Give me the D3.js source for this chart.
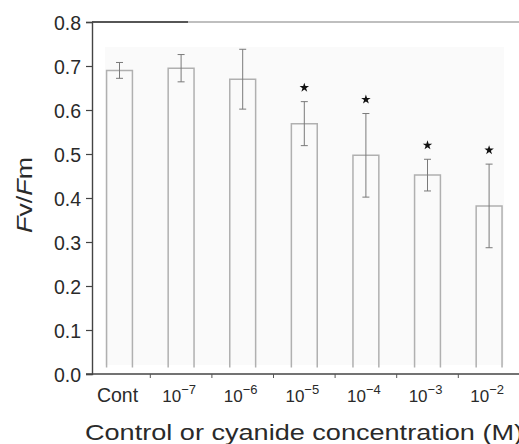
<!DOCTYPE html>
<html><head><meta charset="utf-8">
<script src="https://cdn.jsdelivr.net/npm/d3@7"></script>
<style>body{margin:0;background:#fff;} svg{display:block;}</style>
</head><body>
<script>
const categories = ["Cont", "10^-7", "10^-6", "10^-5", "10^-4", "10^-3", "10^-2"];
const values = [0.690, 0.695, 0.670, 0.569, 0.497, 0.452, 0.382];
const errors = [0.018, 0.031, 0.068, 0.050, 0.095, 0.036, 0.095];
const significant = [false, false, false, true, true, true, true];
const yTicks = [0.0, 0.1, 0.2, 0.3, 0.4, 0.5, 0.6, 0.7, 0.8];

const W = 519, H = 444;
const svg = d3.select("body").append("svg").attr("width", W).attr("height", H);

const y = d3.scaleLinear().domain([0, 0.8]).range([374, 22]);
const x = d3.scaleBand().domain(categories).range([88.7, 519.9])
  .paddingInner(0.58).paddingOuter(0.29);
const step = x.step();
const font = "'Liberation Sans', Arial, Helvetica, sans-serif";
const txt = "#2a2a2a";

// faint plot background
svg.append("rect").attr("x", 105).attr("y", 47).attr("width", 399).attr("height", 318)
  .attr("fill", "#fafafa");

// top frame line
svg.append("line").attr("x1", 92).attr("x2", 519).attr("y1", y(0.8)).attr("y2", y(0.8))
  .attr("stroke", "#aaa").attr("stroke-width", 1.3);
svg.append("line").attr("x1", 92).attr("x2", 188).attr("y1", y(0.8)).attr("y2", y(0.8))
  .attr("stroke", "#333").attr("stroke-width", 1.3);

// bars (open at bottom like the reference)
const bars = svg.append("g");
categories.forEach((c, i) => {
  const x0 = x(c), x1 = x(c) + x.bandwidth();
  const p = d3.path();
  p.moveTo(x0, y(0.015)); p.lineTo(x0, y(values[i])); p.lineTo(x1, y(values[i])); p.lineTo(x1, y(0.015));
  bars.append("path").attr("d", p.toString()).attr("fill", "none")
    .attr("stroke", "#b0b0b0").attr("stroke-width", 1.5);
});

// error bars
const eb = svg.append("g").attr("stroke", "#7a7a7a").attr("stroke-width", 1);
categories.forEach((c, i) => {
  const cx = x(c) + x.bandwidth() / 2;
  const t = y(values[i] + errors[i]), b = y(values[i] - errors[i]);
  eb.append("line").attr("x1", cx).attr("x2", cx).attr("y1", t).attr("y2", b);
  eb.append("line").attr("x1", cx - 3.5).attr("x2", cx + 3.5).attr("y1", t).attr("y2", t);
  eb.append("line").attr("x1", cx - 3.5).attr("x2", cx + 3.5).attr("y1", b).attr("y2", b);
});

// significance stars
const star = d3.symbol().type(d3.symbolStar).size(28);
categories.forEach((c, i) => {
  if (!significant[i]) return;
  const cx = x(c) + x.bandwidth() / 2;
  svg.append("path").attr("d", star())
    .attr("transform", `translate(${cx},${y(values[i] + errors[i]) - 14})`)
    .attr("fill", "#111");
});

// y axis
const yAxis = d3.axisLeft(y).tickValues(yTicks).tickFormat(d3.format(".1f")).tickSize(6).tickPadding(5);
const gy = svg.append("g").attr("transform", "translate(92,0)").call(yAxis);
gy.select(".domain").attr("stroke", "#444").attr("stroke-width", 1.4);
gy.selectAll(".tick line").attr("stroke", "#444").attr("stroke-width", 1.2);
gy.selectAll(".tick text").attr("font-family", font).attr("font-size", 19.5).attr("fill", txt)
  .attr("dy", "0.36em");

// x axis line
svg.append("line").attr("x1", 86).attr("x2", 519).attr("y1", y(0)).attr("y2", y(0))
  .attr("stroke", "#444").attr("stroke-width", 1.4);
// minor ticks between categories
categories.slice(0, -1).forEach(c => {
  const bx = x(c) + x.bandwidth() / 2 + step / 2;
  svg.append("line").attr("x1", bx).attr("x2", bx).attr("y1", y(0)).attr("y2", y(0) + 4)
    .attr("stroke", "#555").attr("stroke-width", 1);
});

// x tick labels
categories.forEach(c => {
  const cx = x(c) + x.bandwidth() / 2;
  const t = svg.append("text").attr("x", cx - 2).attr("y", 402).attr("text-anchor", "middle")
    .attr("font-family", font).attr("font-size", 19.5).attr("fill", txt);
  if (c.indexOf("^") >= 0) {
    const [base, exp] = c.split("^");
    t.append("tspan").text(base).attr("font-size", 17);
    t.append("tspan").text(exp.replace("-", "\u2212")).attr("font-size", 13).attr("dy", -8);
  } else {
    t.text(c);
  }
});

// x title
svg.append("text").attr("x", 85).attr("y", 440)
  .attr("font-family", font).attr("font-size", 22).attr("fill", txt)
  .attr("textLength", 438).attr("lengthAdjust", "spacingAndGlyphs")
  .text("Control or cyanide concentration (M)");

// y title
const yt = svg.append("text").attr("transform", "translate(32,195) rotate(-90)")
  .attr("text-anchor", "middle").attr("font-family", font).attr("font-size", 22).attr("fill", txt)
  .attr("textLength", 76).attr("lengthAdjust", "spacingAndGlyphs");
yt.append("tspan").text("F").attr("font-style", "italic");
yt.append("tspan").text("v/");
yt.append("tspan").text("F").attr("font-style", "italic");
yt.append("tspan").text("m");
</script>
</body></html>
